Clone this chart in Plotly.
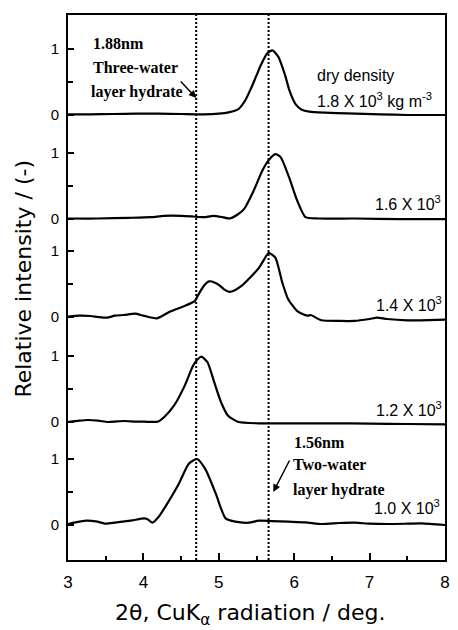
import plotly.graph_objects as go

# ---------------- data ----------------
labels = ["1.8 X 10<sup>3</sup>", "1.6 X 10<sup>3</sup>", "1.4 X 10<sup>3</sup>",
          "1.2 X 10<sup>3</sup>", "1.0 X 10<sup>3</sup>"]

x_18 = [3.00, 3.30, 3.60, 3.90, 4.20, 4.50, 4.80, 5.00, 5.13, 5.26, 5.35, 5.43, 5.50, 5.56,
        5.64, 5.71, 5.79, 5.88, 5.94, 6.02, 6.10, 6.20, 6.41, 6.70, 7.14, 7.50, 8.00]
y_18 = [0.01, 0.01, 0.015, 0.02, 0.02, 0.015, 0.01, 0.02, 0.04, 0.09, 0.22, 0.41, 0.60, 0.76,
        0.93, 0.98, 0.88, 0.60, 0.36, 0.16, 0.08, 0.05, 0.035, 0.025, 0.01, 0.0, 0.0]

x_16 = [3.00, 3.40, 3.80, 4.10, 4.27, 4.50, 4.66, 4.80, 4.93, 5.05, 5.14, 5.25, 5.34, 5.45,
        5.58, 5.66, 5.75, 5.82, 5.93, 6.04, 6.15, 6.32, 6.80, 7.40, 8.00]
y_16 = [0.0, 0.0, 0.01, 0.02, 0.04, 0.04, 0.03, 0.02, 0.04, 0.02, 0.0, 0.06, 0.15, 0.39,
        0.73, 0.88, 0.975, 0.93, 0.63, 0.27, 0.02, 0.0, 0.0, -0.01, -0.01]

x_14 = [3.00, 3.15, 3.30, 3.40, 3.52, 3.62, 3.74, 3.89, 4.00, 4.18, 4.35, 4.53, 4.68, 4.72,
        4.80, 4.87, 4.95, 5.01, 5.08, 5.14, 5.22, 5.30, 5.40, 5.53, 5.60, 5.66, 5.75, 5.84,
        5.92, 6.05, 6.18, 6.22, 6.36, 6.60, 6.80, 7.00, 7.10, 7.23, 7.50, 7.67, 8.00]
y_14 = [0.005, 0.02, 0.015, 0.0, -0.01, 0.02, 0.03, 0.05, 0.02, -0.02, 0.08, 0.16, 0.24, 0.32,
        0.47, 0.54, 0.52, 0.48, 0.41, 0.38, 0.41, 0.47, 0.58, 0.74, 0.87, 0.97, 0.90, 0.53,
        0.27, 0.08, 0.02, 0.03, -0.05, -0.06, -0.06, -0.03, -0.01, -0.03, -0.05, -0.05, -0.04]

x_12 = [3.00, 3.15, 3.26, 3.40, 3.53, 3.65, 3.75, 3.90, 4.01, 4.19, 4.28, 4.41, 4.55, 4.66,
        4.72, 4.77, 4.85, 4.94, 5.03, 5.12, 5.25, 5.52, 5.96, 6.50, 7.00, 7.50, 8.00]
y_12 = [0.0, 0.02, 0.03, 0.02, 0.0, 0.01, 0.015, 0.005, 0.005, 0.005, 0.08, 0.255, 0.555, 0.855,
        0.95, 0.99, 0.905, 0.60, 0.30, 0.10, 0.005, -0.02, -0.02, -0.02, -0.025, -0.03, -0.035]

x_10 = [3.00, 3.10, 3.24, 3.37, 3.50, 3.62, 3.72, 3.85, 4.01, 4.06, 4.12, 4.20, 4.29, 4.47,
        4.60, 4.71, 4.82, 4.96, 5.09, 5.22, 5.40, 5.53, 5.70, 5.92, 6.15, 6.37, 6.60, 6.81,
        7.00, 7.25, 7.50, 7.69, 8.00]
y_10 = [0.015, 0.04, 0.065, 0.055, 0.02, 0.035, 0.05, 0.07, 0.10, 0.085, 0.035, 0.12, 0.275, 0.625,
        0.925, 1.0, 0.85, 0.475, 0.10, 0.05, 0.035, 0.065, 0.06, 0.05, 0.04, 0.015, 0.03, 0.035,
        0.02, 0.015, 0.02, 0.025, 0.0]

series_x = [x_18, x_16, x_14, x_12, x_10]
series_y = [y_18, y_16, y_14, y_12, y_10]

ref_lines = [4.70, 5.66]          # 1.88 nm and 1.56 nm positions (deg)
x_ticks = [3, 4, 5, 6, 7, 8]

# ---------------- layout constants ----------------
W, H = 458, 630
ML, MR, MT, MB = 68, 8, 15, 70
PW, PH = W - ML - MR, H - MT - MB
UNIT_PX = 66.0
BASE_PX = [115, 218.5, 317, 422, 525]       # pixel rows of each baseline
offsets = [(525 - b) / UNIT_PX for b in BASE_PX]
y_lo = (525 - (H - MB)) / UNIT_PX
y_hi = (525 - MT) / UNIT_PX


def px(xp, yp):
    return (xp - ML) / PW, (H - MB - yp) / PH


fig = go.Figure()
for xs, ys, off, lab in zip(series_x, series_y, offsets, labels):
    fig.add_trace(go.Scatter(x=xs, y=[v + off for v in ys], mode="lines",
                             line=dict(color="black", width=2.2, shape="spline", smoothing=0.6),
                             showlegend=False, hoverinfo="skip"))

for xv in ref_lines:
    fig.add_shape(type="line", xref="x", yref="paper", x0=xv, x1=xv, y0=0, y1=1,
                  line=dict(color="black", width=2, dash="2px,2px"))

tickvals, ticktext, minorvals = [], [], []
for off in offsets:
    tickvals += [off, off + 1]
    ticktext += ["0", "1"]
    minorvals.append(off + 0.5)

fig.update_xaxes(range=[3, 8], tickvals=x_ticks, ticks="inside", ticklen=7, tickwidth=1.5,
                 tickcolor="black", showline=True, linecolor="black", linewidth=2, mirror=True,
                 showgrid=False, zeroline=False, ticklabelstandoff=6,
                 tickfont=dict(family="Liberation Sans, Arial", size=17, color="black"),
                 minor=dict(dtick=0.5, ticks="inside", ticklen=4, tickwidth=1.5, tickcolor="black"))
fig.update_yaxes(range=[y_lo, y_hi], tickvals=tickvals, ticktext=ticktext, ticks="inside",
                 ticklen=6, tickwidth=1.5, tickcolor="black", showline=True, linecolor="black",
                 linewidth=2, mirror=True, showgrid=False, zeroline=False, ticklabelstandoff=4,
                 tickfont=dict(family="Liberation Sans, Arial", size=15, color="black"),
                 minor=dict(tickvals=minorvals, ticks="inside", ticklen=5, tickwidth=1.5,
                            tickcolor="black"))

sans = dict(family="Liberation Sans, Arial", size=16, color="black")
serif = dict(family="Liberation Serif, Times New Roman", size=16, color="black")
title_font = dict(family="DejaVu Sans", size=22, color="black")

ann = []


def text(xp, yp, t, font, anchor="left"):
    a, b = px(xp, yp)
    ann.append(dict(x=a, y=b, xref="paper", yref="paper", text=t, showarrow=False,
                    xanchor=anchor, yanchor="middle", font=font))


text(91, 44, "<b>1.88nm</b>", serif)
text(91, 68, "<b>Three-water</b>", serif)
text(89, 92, "<b>layer hydrate</b>", serif)
text(295, 442, "<b>1.56nm</b>", serif)
text(294, 465, "<b>Two-water</b>", serif)
text(294, 490, "<b>layer hydrate</b>", serif)

text(318, 76, "dry density", sans)
text(318, 100, "1.8 X 10<sup>3</sup> kg m<sup>-3</sup>", sans)
label_rows = [None, (448, 203), (449, 304), (449, 409), (447, 507)]
for lab, pos in zip(labels, label_rows):
    if pos:
        text(pos[0], pos[1], lab, sans, anchor="right")

# arrows
for head, tail in [((198, 98), (181, 80)), ((276, 492), (293, 459))]:
    a, b = px(*head)
    ann.append(dict(x=a, y=b, xref="paper", yref="paper", text="", showarrow=True,
                    ax=tail[0] - head[0], ay=tail[1] - head[1], arrowhead=2, arrowsize=1,
                    arrowwidth=1.5, arrowcolor="black"))

# axis titles
a, b = px(252, 614)
ann.append(dict(x=a, y=b, xref="paper", yref="paper", showarrow=False, xanchor="center",
                yanchor="middle", text="2θ, CuK<sub>α</sub> radiation / deg.", font=title_font))
a, b = px(22, 279)
ann.append(dict(x=a, y=b, xref="paper", yref="paper", showarrow=False, xanchor="center",
                yanchor="middle", textangle=-90, text="Relative intensity / (-)", font=title_font))

fig.update_layout(width=W, height=H, margin=dict(l=ML, r=MR, t=MT, b=MB),
                  plot_bgcolor="white", paper_bgcolor="white", annotations=ann,
                  showlegend=False)

fig.write_html("out.html")
